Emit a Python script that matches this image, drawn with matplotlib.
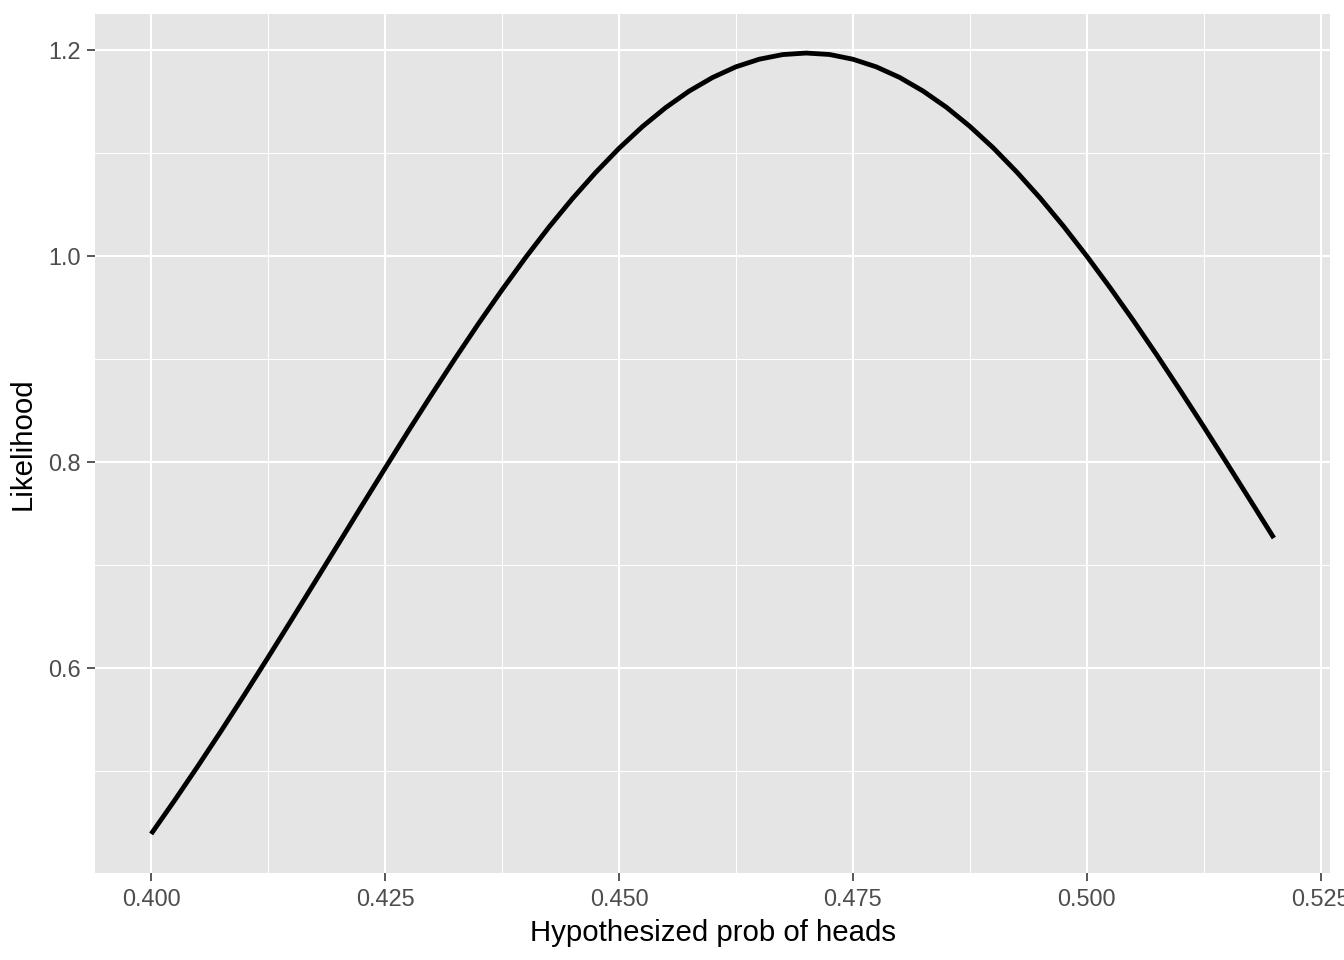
import matplotlib
matplotlib.use("Agg")
import matplotlib.pyplot as plt
from matplotlib.ticker import FixedLocator

plt.rcParams['font.family'] = ['Liberation Sans', 'DejaVu Sans']

# hypothesized probability of heads vs likelihood
prob = [0.4000, 0.4025, 0.4050, 0.4075, 0.4100, 0.4125, 0.4150, 0.4175,
        0.4200, 0.4225, 0.4250, 0.4275, 0.4300, 0.4325, 0.4350, 0.4375,
        0.4400, 0.4425, 0.4450, 0.4475, 0.4500, 0.4525, 0.4550, 0.4575,
        0.4600, 0.4625, 0.4650, 0.4675, 0.4700, 0.4725, 0.4750, 0.4775,
        0.4800, 0.4825, 0.4850, 0.4875, 0.4900, 0.4925, 0.4950, 0.4975,
        0.5000, 0.5025, 0.5050, 0.5075, 0.5100, 0.5125, 0.5150, 0.5175,
        0.5200]
likelihood = [0.4384, 0.4709, 0.5044, 0.5388, 0.5741, 0.6100, 0.6464, 0.6832,
              0.7201, 0.7571, 0.7937, 0.8301, 0.8657, 0.9006, 0.9345, 0.9671,
              0.9983, 1.0279, 1.0555, 1.0811, 1.1046, 1.1257, 1.1443, 1.1603,
              1.1735, 1.1839, 1.1913, 1.1958, 1.1973, 1.1959, 1.1913, 1.1839,
              1.1736, 1.1604, 1.1446, 1.1261, 1.1052, 1.0819, 1.0566, 1.0292,
              1.0000, 0.9692, 0.9371, 0.9037, 0.8693, 0.8342, 0.7984, 0.7623,
              0.7260]

x_major = [0.400, 0.425, 0.450, 0.475, 0.500, 0.525]
x_minor = [0.4125, 0.4375, 0.4625, 0.4875, 0.5125]
y_major = [0.6, 0.8, 1.0, 1.2]
y_minor = [0.5, 0.7, 0.9, 1.1]

fig = plt.figure(figsize=(7, 5), dpi=192)
ax = fig.add_axes([95 / 1344, 1 - 873 / 960, (1330 - 95) / 1344, (873 - 14) / 960])
ax.set_facecolor("#E5E5E5")

# ggplot style expansion: 5% each side
xr = max(prob) - min(prob)
yr = max(likelihood) - min(likelihood)
ax.set_xlim(min(prob) - 0.05 * xr, max(prob) + 0.05 * xr)
ax.set_ylim(min(likelihood) - 0.05 * yr, max(likelihood) + 0.05 * yr)

ax.xaxis.set_major_locator(FixedLocator(x_major))
ax.xaxis.set_minor_locator(FixedLocator(x_minor))
ax.yaxis.set_major_locator(FixedLocator(y_major))
ax.yaxis.set_minor_locator(FixedLocator(y_minor))
ax.set_xticklabels(["%.3f" % v for v in x_major])
ax.set_yticklabels(["%.1f" % v for v in y_major])

ax.grid(which="major", color="white", linewidth=0.8)
ax.grid(which="minor", color="white", linewidth=0.4)
ax.set_axisbelow(True)
for s in ax.spines.values():
    s.set_visible(False)

ax.tick_params(which="major", length=3, width=0.6, color="#333333",
               labelsize=8.8, labelcolor="#4D4D4D", pad=2.5)
ax.tick_params(which="minor", length=0)

ax.plot(prob, likelihood, color="black", linewidth=1.8,
        solid_capstyle="butt", solid_joinstyle="round")

ax.set_xlabel("Hypothesized prob of heads", fontsize=11, labelpad=3)
ax.set_ylabel("Likelihood", fontsize=11, labelpad=4)

fig.savefig("out.png", dpi=192)
